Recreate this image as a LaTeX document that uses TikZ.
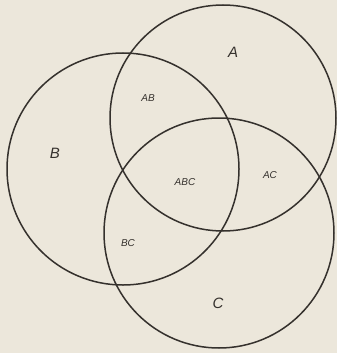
\documentclass[tikz,border=0pt]{standalone}
\usepackage{fontspec}
\setmainfont{Liberation Sans}
\definecolor{paper}{HTML}{ECE7DB}
\definecolor{ink}{HTML}{35312D}
\begin{document}
\begin{tikzpicture}[x=1pt,y=-1pt,
  ring/.style={draw=ink,line width=1.5pt},
  big/.style={text=ink,font=\itshape\fontsize{15}{15}\selectfont},
  small/.style={text=ink,font=\itshape\fontsize{10}{10}\selectfont}]
\fill[paper] (0,0) rectangle (337,353);
\useasboundingbox (0,0) rectangle (337,353);
\node[ring,circle,minimum size=226pt,inner sep=0pt] (cA) at (223,118) {};
\node[ring,circle,minimum size=232pt,inner sep=0pt] (cB) at (123,169) {};
\node[ring,circle,minimum size=230pt,inner sep=0pt] (cC) at (219,233) {};
\node[big] (lA) at (233,52) {A};
\node[big] (lB) at (55,153) {B};
\node[big] (lC) at (218,303) {C};
\node[small] (lAB) at (148,98) {AB};
\node[small] (lABC) at (185,182) {ABC};
\node[small] (lAC) at (270,175) {AC};
\node[small] (lBC) at (128,243) {BC};
\end{tikzpicture}
\end{document}
